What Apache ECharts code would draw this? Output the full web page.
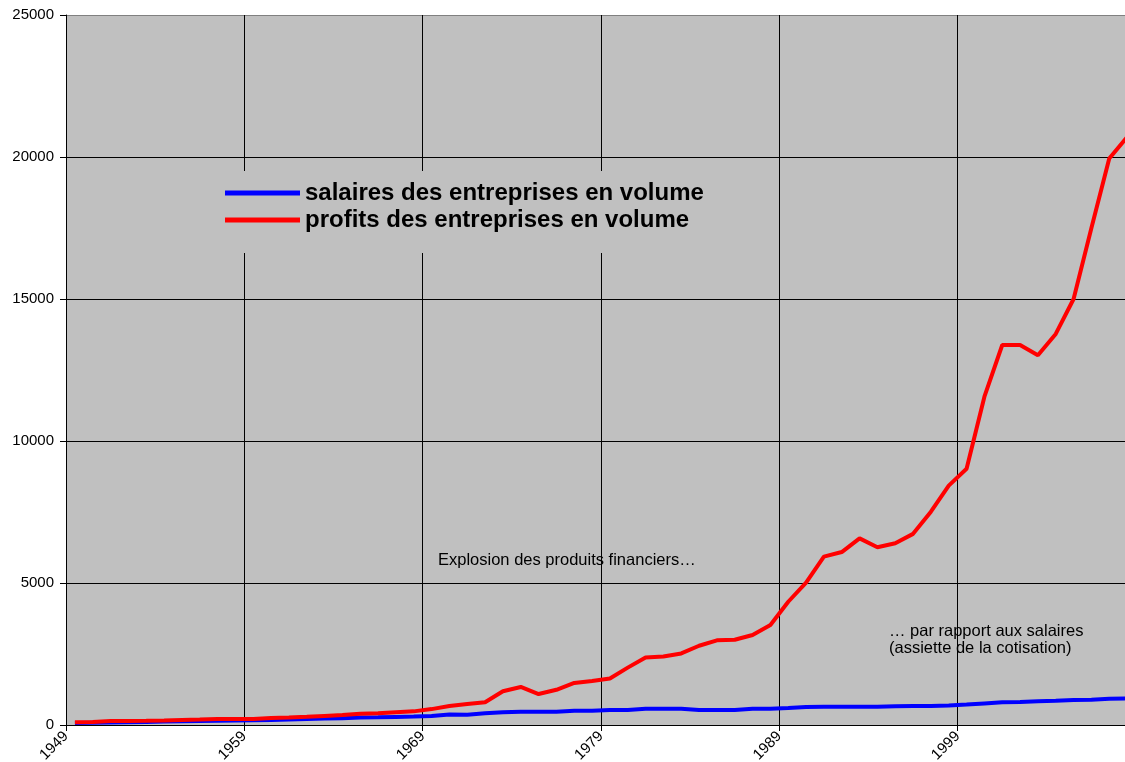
<!DOCTYPE html>
<html><head><meta charset="utf-8">
<script src="https://cdn.jsdelivr.net/npm/echarts@6/dist/echarts.min.js"></script>
<style>html,body{margin:0;padding:0;background:#fff}#c{width:1125px;height:762px}</style>
</head><body><div id="c"></div>
<script>
const years = ['1949','1950','1951','1952','1953','1954','1955','1956','1957','1958',
  '1959','1960','1961','1962','1963','1964','1965','1966','1967','1968',
  '1969','1970','1971','1972','1973','1974','1975','1976','1977','1978',
  '1979','1980','1981','1982','1983','1984','1985','1986','1987','1988',
  '1989','1990','1991','1992','1993','1994','1995','1996','1997','1998',
  '1999','2000','2001','2002','2003','2004','2005','2006','2007','2008'];
const tickLabels = ['1949','1959','1969','1979','1989','1999'];
const salaires = [70,80,90,100,110,120,130,140,150,160,
  165,180,195,210,225,240,260,270,285,300,
  320,370,365,410,445,468,468,468,500,500,
  525,530,570,575,575,530,530,530,570,575,
  600,630,640,640,640,640,660,670,670,690,
  720,760,800,810,840,850,880,890,920,930];
const profits = [100,105,140,145,150,160,180,190,210,210,
  210,245,265,290,320,350,400,410,450,480,
  560,670,740,800,1190,1340,1090,1240,1480,1550,
  1640,2020,2380,2410,2520,2790,2980,3000,3170,3520,
  4340,5010,5930,6090,6570,6260,6400,6730,7510,8430,
  9020,11560,13380,13380,13020,13770,15000,17500,19950,20700];
const nameSalaires = 'salaires des entreprises en volume';
const nameProfits = 'profits des entreprises en volume';
const note1 = 'Explosion des produits financiers…';
const note2 = '… par rapport aux salaires\n(assiette de la cotisation)';

const font = "'Liberation Sans', Arial, sans-serif";
const labelAxisData = years.concat(['2009']);
const chart = echarts.init(document.getElementById('c'), null, {renderer: 'canvas'});
chart.setOption({
  animation: false,
  backgroundColor: '#ffffff',
  grid: {left: 66, top: 15, right: -11, bottom: 37, show: true, backgroundColor: '#C0C0C0', borderWidth: 0,
    containLabel: false, outerBoundsMode: 'none'},
  legend: {
    orient: 'vertical', left: 210, top: 171,
    padding: [10, 15, 21, 15], itemGap: 3,
    backgroundColor: '#C0C0C0',
    selectedMode: false,
    itemWidth: 75, itemHeight: 5, icon: 'rect',
    textStyle: {fontFamily: font, fontSize: 24, fontWeight: 'bold', color: '#000', lineHeight: 24},
    data: [nameSalaires, nameProfits]
  },
  xAxis: [{
    type: 'category', data: years, boundaryGap: true, position: 'bottom',
    axisLine: {show: true, lineStyle: {color: '#000', width: 1}},
    axisTick: {show: true, interval: 9, length: 6, lineStyle: {color: '#000'}},
    axisLabel: {show: false},
    splitLine: {show: true, interval: 9, lineStyle: {color: '#000', width: 1}}
  }, {
    type: 'category', data: labelAxisData, boundaryGap: false, position: 'bottom',
    axisLine: {show: false}, axisTick: {show: false}, splitLine: {show: false},
    axisLabel: {show: true, interval: 9, rotate: 45, margin: 9, fontFamily: font, fontSize: 15, color: '#000',
      formatter: v => tickLabels.indexOf(v) >= 0 ? v : ''}
  }],
  yAxis: {
    type: 'value', min: 0, max: 25000, interval: 5000,
    axisLine: {show: true, lineStyle: {color: '#000', width: 1}},
    axisTick: {show: true, length: 6, lineStyle: {color: '#000'}},
    axisLabel: {fontFamily: font, fontSize: 15, color: '#000', margin: 12, formatter: v => String(v)},
    splitLine: {show: true, lineStyle: {color: ['#000','#000','#000','#000','#000','#808080'], width: 1}}
  },
  graphic: [
    {type: 'text', left: 438, top: 552, z: 10, style: {text: note1, font: '16.5px ' + font, fill: '#000'}},
    {type: 'text', left: 889, top: 623, z: 10, style: {text: note2, font: '16.5px ' + font, fill: '#000', lineHeight: 17}}
  ],
  series: [
    {name: nameSalaires, type: 'line', xAxisIndex: 0, data: salaires, showSymbol: false, symbol: 'none',
      lineStyle: {color: '#0000FF', width: 4}, itemStyle: {color: '#0000FF'}, z: 3},
    {name: nameProfits, type: 'line', xAxisIndex: 0, data: profits, showSymbol: false, symbol: 'none',
      lineStyle: {color: '#FF0000', width: 4}, itemStyle: {color: '#FF0000'}, z: 4}
  ]
});
</script></body></html>
